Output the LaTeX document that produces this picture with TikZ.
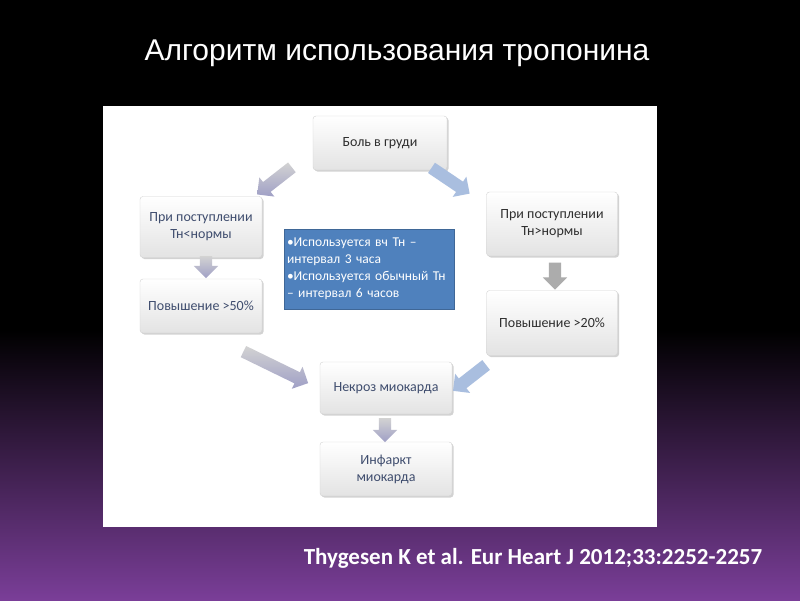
\documentclass[tikz,border=0pt]{standalone}
\usepackage{fontspec}
\setmainfont{Carlito}
\newfontfamily\titlefont{Liberation Sans}
\usetikzlibrary{shapes.arrows,shadows}
\definecolor{bluebox}{HTML}{4F81BD}
\definecolor{txtblue}{HTML}{3F4D6E}
\definecolor{txtdark}{HTML}{2E2E2E}
\definecolor{purp}{HTML}{7A3E98}
\definecolor{lblue}{HTML}{A9BEDF}
\tikzset{
 box/.style={rectangle, rounded corners=3pt, draw=gray!35, top color=white, bottom color=gray!22,
   drop shadow={shadow xshift=1.5pt,shadow yshift=-1.5pt,opacity=0.35}, align=center,
   font=\fontsize{14}{17}\selectfont, inner sep=2pt},
 arr/.style={single arrow, single arrow head extend=6pt, inner sep=6pt, draw=none},
 darkarr/.style={arr, top color=gray!35, bottom color=gray!75!blue!60},
 lightarr/.style={arr, fill=lblue},
}
\begin{document}
\begin{tikzpicture}[x=1pt,y=-1pt]
\fill[black] (0,0) rectangle (800,600);
\shade[top color=black, bottom color=purp] (0,330) rectangle (800,600);
\node[text=white, font=\titlefont\fontsize{30}{34}\selectfont] (title) at (397,53) {Алгоритм использования тропонина};
\fill[white] (103,106) rectangle (657,527);
\node[box, text=txtdark, minimum width=134pt, minimum height=54pt] (pain) at (380,143) {Боль в груди};
\node[box, text=txtblue, minimum width=122pt, minimum height=61pt] (l1) at (201,227) {При поступлении\\Тн<нормы};
\node[box, text=txtblue, minimum width=122pt, minimum height=54pt] (l2) at (201,306) {Повышение >50\%};
\node[box, text=txtdark, minimum width=131pt, minimum height=64pt] (r1) at (552,224) {При поступлении\\Тн>нормы};
\node[box, text=txtdark, minimum width=131pt, minimum height=65pt] (r2) at (552,323) {Повышение >20\%};
\node[box, text=txtblue, minimum width=132pt, minimum height=52pt] (nec) at (386,388) {Некроз миокарда};
\node[box, text=txtblue, minimum width=132pt, minimum height=54pt] (inf) at (386,469) {Инфаркт\\миокарда};
\node[rectangle, fill=bluebox, draw=bluebox!80!black, text=white, minimum width=170pt, minimum height=80pt, align=left, text width=164pt, inner sep=3pt, font=\fontsize{13.5}{17}\selectfont] (info) at (369,269)
 {•Используется вч Тн –\\ интервал 3 часа\\•Используется обычный Тн\\ – интервал 6 часов};
% arrows
\node[darkarr, minimum height=44pt, rotate=-142] (a1) at (277,179) {};
\node[lightarr, minimum height=46pt, rotate=-34] (a2) at (448,179) {};
\node[darkarr, minimum height=22pt, rotate=-90] (a3) at (206,264) {};
\node[arr, fill=gray!65, minimum height=27pt, rotate=-90] (a4) at (555,273) {};
\node[darkarr, minimum height=72pt, rotate=-26] (a5) at (273,366) {};
\node[lightarr, minimum height=42pt, rotate=-142] (a6) at (472,376) {};
\node[darkarr, minimum height=24pt, rotate=-90] (a7) at (385,427) {};
\node[text=white, font=\bfseries\fontsize{23}{26}\selectfont] (cite) at (533,558) {Thygesen K et al. Eur Heart J 2012;33:2252-2257};
\end{tikzpicture}
\end{document}
